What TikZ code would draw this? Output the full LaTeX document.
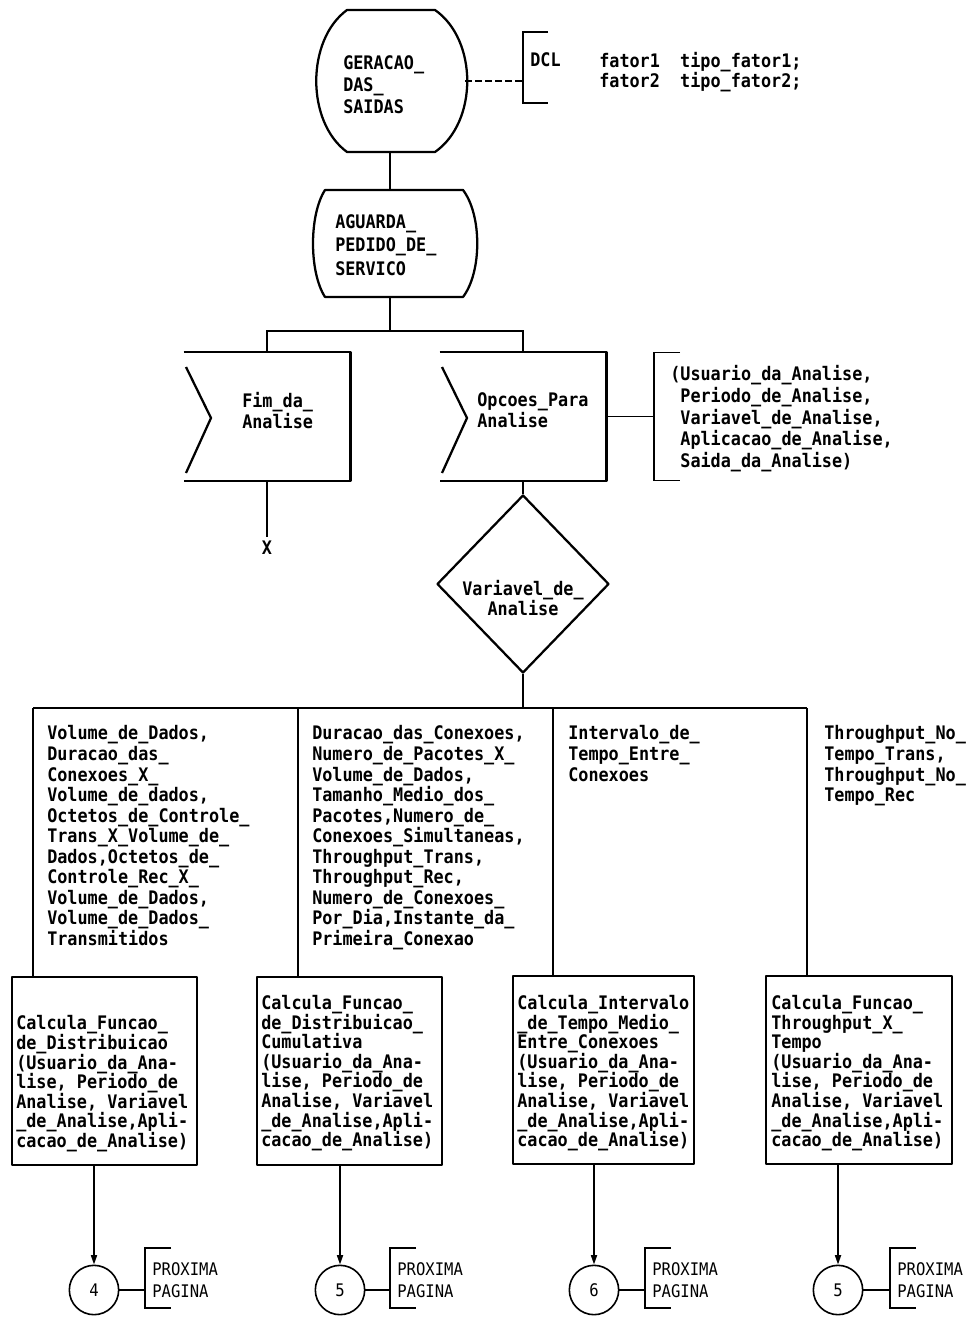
\documentclass[tikz,border=0pt]{standalone}
\usepackage{fontspec}
\setmonofont{DejaVu Sans Mono}
\newfontfamily\dotfont[FakeStretch=0.9]{DejaVu Sans Mono}
\usetikzlibrary{shapes.geometric,arrows.meta}

\begin{document}
\begin{tikzpicture}[x=0.75pt,y=-0.75pt,
  txt/.style={font=\dotfont\bfseries\fontsize{14}{#1}\selectfont, align=left, inner sep=0pt, anchor=north west},
  txt/.default=15.4,
  thin txt/.style={font=\dotfont\mdseries\fontsize{13}{16.5}\selectfont, align=left, inner sep=0pt, anchor=north west},
  holder/.style={inner sep=0pt, outer sep=0pt},
  shp/.style={line width=1.7pt, line join=round},
  ln/.style={line width=1.2pt},
  arr/.style={ln, -{Triangle[length=7pt,width=4.5pt]}},
  procbox/.style={draw, shp, inner sep=0pt, minimum height=140.5pt},
  conn/.style={draw, circle, line width=1.2pt, minimum size=37pt, inner sep=0pt,
    font=\dotfont\mdseries\fontsize{13}{14}\selectfont}
]
\useasboundingbox (0,0) rectangle (976,1319);

% ---------- start symbol: GERACAO_DAS_SAIDAS ----------
\node[holder, minimum width=113pt, minimum height=106.5pt] (ger) at (390,81) {};
\draw[shp] (347,10) -- (435,10) .. controls (478,40) and (478,122) .. (435,152)
  -- (347,152) .. controls (306,122) and (306,40) .. (347,10) -- cycle;
\node[txt=16.5] (gertxt) at (343,55) {GERACAO\_\\DAS\_\\SAIDAS};

% declaration comment
\coordinate (dclB) at (523,81);
\draw[ln, dash pattern=on 5pt off 2.5pt] (ger.east) -- (dclB);
\draw[ln] ([shift={(25,-49)}]dclB) -- ([shift={(0,-49)}]dclB) -- ([shift={(0,22)}]dclB) -- ([shift={(25,22)}]dclB);
\node[txt] (dcl) at (530,52.5) {DCL};
\node[txt=15] (fat) at (599,52.5) {fator1~~tipo\_fator1;\\fator2~~tipo\_fator2;};

% ---------- state: AGUARDA_PEDIDO_DE_SERVICO ----------
\node[holder, minimum width=120pt, minimum height=80.25pt] (ag) at (390,243.5) {};
\draw[shp] (325,190) -- (463,190) .. controls (482,215) and (482,272) .. (463,297)
  -- (325,297) .. controls (309,272) and (309,215) .. (325,190) -- cycle;
\node[txt=17.5] (agtxt) at (335,214.5) {AGUARDA\_\\PEDIDO\_DE\_\\SERVICO};
\draw[ln] (ger.south) -- (ag.north);

% ---------- input signals ----------
\node[holder, minimum width=125.25pt, minimum height=96.75pt] (fim) at (267,416.5) {};
\draw[shp] (fim.north west) -- (fim.north east) -- (fim.south east) -- (fim.south west);
\draw[shp] (186,367) -- (211,418) -- (186,473);
\node[txt] (fimtxt) at (242,392.5) {Fim\_da\_\\Analise};

\node[holder, minimum width=125.25pt, minimum height=96.75pt] (op) at (523,416.5) {};
\draw[shp] (op.north west) -- (op.north east) -- (op.south east) -- (op.south west);
\draw[shp] (442,367) -- (467,418) -- (442,473);
\node[txt] (optxt) at (477,392.5) {Opcoes\_Para\\Analise};

\coordinate (split) at (390,331);
\draw[ln] (ag.south) -- (split);
\draw[ln] (fim.north) |- (split) -| (op.north);

% end of analysis
\node[txt, anchor=north, inner sep=3pt] (xend) at (267,537) {X};
\draw[ln] (fim.south) -- (xend.north);

% parameter list of the input
\coordinate (opBr) at (654,416.5);
\draw[ln] (op.east) -- (opBr);
\draw[ln] ([shift={(26,-64)}]opBr) -- ([shift={(0,-64)}]opBr) -- ([shift={(0,64)}]opBr) -- ([shift={(26,64)}]opBr);
\node[txt=16.2] (params) at (670,365.5) {(Usuario\_da\_Analise,\\~Periodo\_de\_Analise,\\~Variavel\_de\_Analise,\\~Aplicacao\_de\_Analise,\\~Saida\_da\_Analise)};

% ---------- decision ----------
\node[draw, shp, diamond, minimum width=129pt, minimum height=133.5pt, inner sep=0pt] (dm) at (523,584) {};
\node[font=\dotfont\bfseries\fontsize{14}{13.5}\selectfont, align=center, inner sep=0pt] (dmtxt) at (523,598) {Variavel\_de\_\\Analise};
\draw[ln] (op.south) -- (dm.north);

% ---------- branches ----------
\coordinate (bus) at (523,708);
\coordinate (v1) at (33,708);
\coordinate (v2) at (298,708);
\coordinate (v3) at (553,708);
\coordinate (v4) at (807,708);
\draw[ln] (dm.south) -- (bus);
\draw[ln] (v1) -- (v4);

\node[txt] (b1txt) at (47,725.5) {Volume\_de\_Dados,\\Duracao\_das\_\\Conexoes\_X\_\\Volume\_de\_dados,\\Octetos\_de\_Controle\_\\Trans\_X\_Volume\_de\_\\Dados,Octetos\_de\_\\Controle\_Rec\_X\_\\Volume\_de\_Dados,\\Volume\_de\_Dados\_\\Transmitidos};
\node[txt] (b2txt) at (312,725.5) {Duracao\_das\_Conexoes,\\Numero\_de\_Pacotes\_X\_\\Volume\_de\_Dados,\\Tamanho\_Medio\_dos\_\\Pacotes,Numero\_de\_\\Conexoes\_Simultaneas,\\Throughput\_Trans,\\Throughput\_Rec,\\Numero\_de\_Conexoes\_\\Por\_Dia,Instante\_da\_\\Primeira\_Conexao};
\node[txt] (b3txt) at (568,725.5) {Intervalo\_de\_\\Tempo\_Entre\_\\Conexoes};
\node[txt] (b4txt) at (824,725.5) {Throughput\_No\_\\Tempo\_Trans,\\Throughput\_No\_\\Tempo\_Rec};

% ---------- procedures ----------
\node[procbox, minimum width=138.75pt] (c1) at (104.5,1071) {};
\node[procbox, minimum width=138.75pt] (c2) at (349.5,1071) {};
\node[procbox, minimum width=135.75pt] (c3) at (603.5,1070) {};
\node[procbox, minimum width=139.5pt] (c4) at (859,1070) {};

\draw[ln] (v1) -- (v1 |- c1.north);
\draw[ln] (v2) -- (v2 |- c2.north);
\draw[ln] (v3) -- (v3 |- c3.north);
\draw[ln] (v4) -- (v4 |- c4.north);

\node[txt=14.7] (c1txt) at (16,1015.5) {Calcula\_Funcao\_\\de\_Distribuicao\\(Usuario\_da\_Ana-\\lise, Periodo\_de\\Analise, Variavel\\\_de\_Analise,Apli-\\cacao\_de\_Analise)};
\node[txt=14.7] (c2txt) at (261,995) {Calcula\_Funcao\_\\de\_Distribuicao\_\\Cumulativa\\(Usuario\_da\_Ana-\\lise, Periodo\_de\\Analise, Variavel\\\_de\_Analise,Apli-\\cacao\_de\_Analise)};
\node[txt=14.7] (c3txt) at (517,995) {Calcula\_Intervalo\\\_de\_Tempo\_Medio\_\\Entre\_Conexoes\\(Usuario\_da\_Ana-\\lise, Periodo\_de\\Analise, Variavel\\\_de\_Analise,Apli-\\cacao\_de\_Analise)};
\node[txt=14.7] (c4txt) at (771,995) {Calcula\_Funcao\_\\Throughput\_X\_\\Tempo\\(Usuario\_da\_Ana-\\lise, Periodo\_de\\Analise, Variavel\\\_de\_Analise,Apli-\\cacao\_de\_Analise)};

% ---------- off-page connectors ----------
\node[conn] (k1) at (94,1290) {4};
\node[conn] (k2) at (340,1290) {5};
\node[conn] (k3) at (594,1290) {6};
\node[conn] (k4) at (838,1290) {5};

\draw[arr] (k1 |- c1.south) -- (k1.north);
\draw[arr] (k2 |- c2.south) -- (k2.north);
\draw[arr] (k3 |- c3.south) -- (k3.north);
\draw[arr] (k4 |- c4.south) -- (k4.north);

\foreach \k/\bx in {k1/145, k2/390, k3/645, k4/890} {
  \coordinate (pb-\k) at (\bx,1290);
  \draw[line width=1pt] (\k.east) -- (pb-\k);
  \draw[line width=1pt] ([shift={(26,-42)}]pb-\k) -- ([shift={(0,-42)}]pb-\k) -- ([shift={(0,18)}]pb-\k) -- ([shift={(26,18)}]pb-\k);
  \node[thin txt] (pt-\k) at ([shift={(7,-28)}]pb-\k) {PROXIMA\\PAGINA};
}
\end{tikzpicture}
\end{document}
